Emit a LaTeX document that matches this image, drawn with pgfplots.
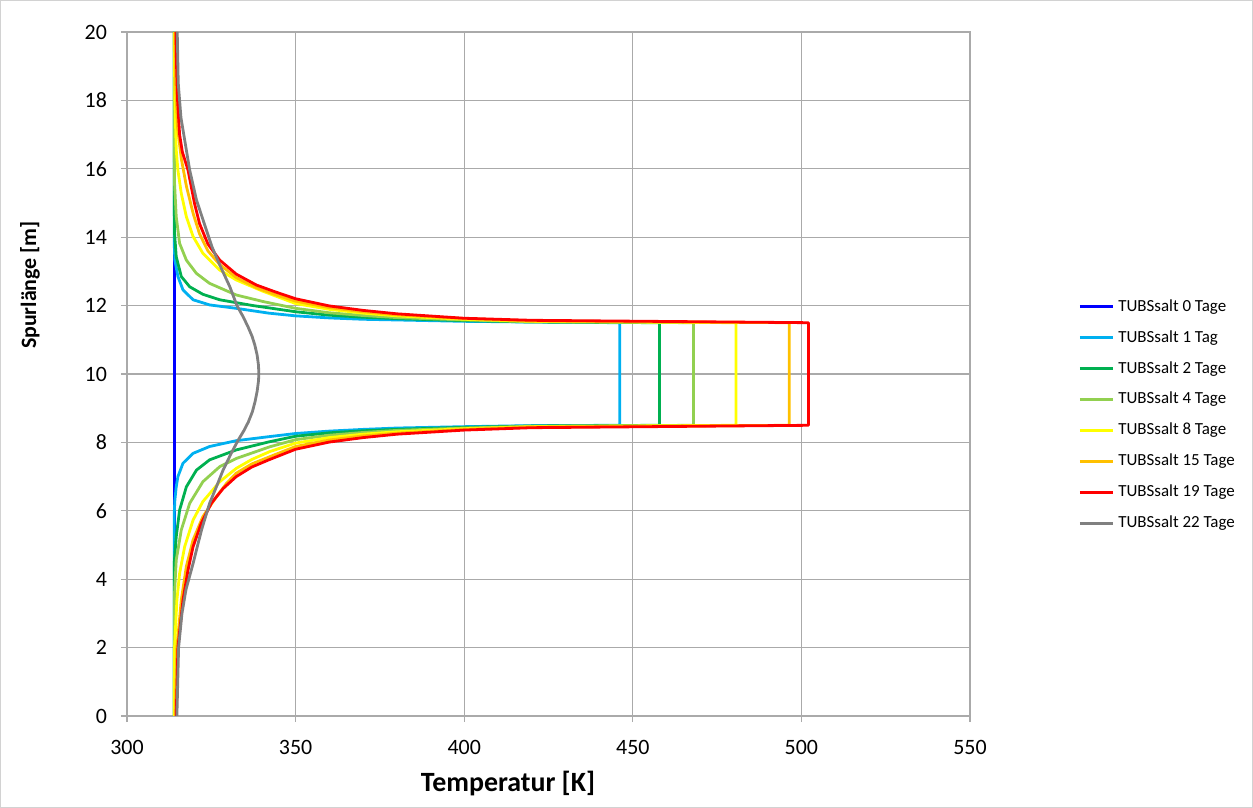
\documentclass[border=0pt]{standalone}
\usepackage{fontspec}
\setmainfont{Carlito}
\usepackage{pgfplots}
\pgfplotsset{compat=1.18}
\definecolor{gridgray}{RGB}{170,170,170}
\definecolor{c0}{RGB}{0,0,255}
\definecolor{c1}{RGB}{0,176,240}
\definecolor{c2}{RGB}{0,176,80}
\definecolor{c4}{RGB}{146,208,80}
\definecolor{c8}{RGB}{255,255,0}
\definecolor{c15}{RGB}{255,192,0}
\definecolor{c19}{RGB}{255,0,0}
\definecolor{c22}{RGB}{128,128,128}
\begin{document}
\begin{tikzpicture}
\draw[gray!35, line width=0.5bp] (0.25bp,0.25bp) rectangle (626.25bp,403.75bp);
\begin{axis}[
  at={(63.5bp,46bp)}, anchor=south west,
  scale only axis, width=421.5bp, height=342bp,
  xmin=300, xmax=550, ymin=0, ymax=20,
  xtick={300,350,...,550}, ytick={0,2,...,20},
  grid=major, major grid style={color=gridgray, line width=0.6bp},
  axis line style={gridgray, line width=0.6bp},
  tick style={gridgray, line width=0.6bp},
  tick align=outside, major tick length=3bp, tick pos=left,
  ticklabel style={font=\fontsize{11}{13}\selectfont},
  xticklabel style={yshift=-5.5bp},
  yticklabel style={xshift=-3.5bp},
  /pgf/number format/assume math mode=true,
  xlabel={Temperatur [K]}, ylabel={Spurlänge [m]},
  xlabel style={font=\fontsize{14}{16}\selectfont\bfseries, at={(axis description cs:0.452,-0.098)}, anchor=center},
  ylabel style={font=\fontsize{11}{13}\selectfont\bfseries, at={(axis description cs:-0.115,0.63)}, anchor=center},
  legend style={at={(axis description cs:1.128,0.44)}, anchor=west, draw=none, fill=none,
    font=\fontsize{8.5}{10}\selectfont, row sep=4.1bp, inner sep=0pt},
  legend cell align=left,
  legend image code/.code={\draw[#1, line width=1.5bp] (0bp,0bp) -- (16.5bp,0bp);},
  every axis plot/.append style={line width=1.4bp, line join=round, no markers},
  clip=true,
]
\addplot[c0] coordinates {(314,0) (314,20)};
\addlegendentry{TUBSsalt 0 Tage}
\addplot[c1] coordinates {(314,0) (314,5.9) (314.2,6.32) (314.6,6.7) (315.1,7.0) (316.6,7.39) (319.6,7.68) (324.5,7.88) (332.4,8.05) (342.3,8.17) (350,8.26) (360,8.33) (370,8.38) (380,8.42) (400,8.46) (420,8.49) (446.1,8.5) (446.1,11.5) (420,11.52) (400,11.54) (380,11.58) (370,11.6) (360,11.64) (350,11.7) (342,11.78) (332.4,11.92) (324.5,12.02) (319.6,12.17) (316.6,12.46) (315.1,12.85) (314.2,13.33) (314,13.82) (314,20)};
\addlegendentry{TUBSsalt 1 Tag}
\addplot[c2] coordinates {(314,0) (314,4.46) (314.6,5.24) (315.6,6.02) (317.6,6.7) (320.6,7.19) (324.5,7.49) (332.4,7.78) (342.3,8.02) (350,8.18) (360,8.28) (370,8.34) (380,8.38) (400,8.44) (420,8.48) (457.9,8.5) (457.9,11.5) (420,11.52) (400,11.56) (380,11.62) (370,11.66) (360,11.72) (350,11.82) (337.4,12.0) (327.5,12.17) (322.5,12.33) (318.6,12.55) (316.1,12.85) (314.6,13.43) (314.1,14.11) (314,15.28) (314,20)};
\addlegendentry{TUBSsalt 2 Tage}
\addplot[c4] coordinates {(314,0) (314.1,3.59) (314.6,4.56) (316.1,5.44) (318.6,6.22) (322.5,6.85) (327.5,7.29) (332.4,7.53) (342.3,7.87) (350,8.08) (360,8.21) (370,8.29) (380,8.35) (400,8.42) (420,8.47) (468,8.5) (468,11.5) (420,11.53) (400,11.58) (380,11.65) (370,11.71) (360,11.79) (350,11.92) (340.3,12.12) (332.4,12.31) (324.5,12.65) (320.6,12.94) (317.6,13.33) (315.6,13.82) (314.6,14.6) (314.1,15.57) (314,17) (314,20)};
\addlegendentry{TUBSsalt 4 Tage}
\addplot[c8] coordinates {(314,0) (314.1,2) (314.8,3.39) (315.6,4.17) (317.1,4.95) (319.6,5.73) (322.5,6.27) (327.5,6.85) (332.4,7.24) (337,7.5) (342.3,7.73) (350,7.98) (360,8.14) (370,8.24) (380,8.31) (400,8.4) (420,8.46) (480.6,8.5) (480.6,11.5) (420,11.54) (400,11.6) (380,11.7) (370,11.78) (360,11.89) (350,12.06) (340.3,12.42) (332.4,12.75) (327.5,13.04) (322.5,13.53) (319.6,14.02) (317.6,14.6) (316.1,15.28) (315.1,15.96) (314.6,16.55) (314.2,18) (314,20)};
\addlegendentry{TUBSsalt 8 Tage}
\addplot[c15] coordinates {(314.3,0) (314.8,2) (316.1,3.39) (317.6,4.37) (319.6,5.15) (322.5,5.83) (326.5,6.41) (329.5,6.8) (332.4,7.1) (337,7.37) (342.3,7.58) (350,7.88) (360,8.07) (370,8.19) (380,8.27) (400,8.38) (420,8.45) (496.4,8.5) (496.4,11.5) (420,11.55) (400,11.62) (380,11.73) (370,11.82) (360,11.94) (350,12.13) (344,12.32) (338.4,12.52) (332.4,12.82) (327.5,13.2) (324,13.6) (321.5,14.1) (319.6,14.7) (317.6,15.5) (316.1,16.3) (315,17.2) (314.4,18.5) (314.2,20)};
\addlegendentry{TUBSsalt 15 Tage}
\addplot[c19] coordinates {(314.6,0) (315.1,2) (316.6,3.39) (318.1,4.27) (319.6,4.95) (322,5.63) (325,6.22) (328.5,6.65) (332.4,7.0) (337,7.28) (342.3,7.5) (350,7.8) (360,8.01) (370,8.14) (380,8.24) (400,8.36) (420,8.43) (502.1,8.5) (502.1,11.5) (420,11.57) (400,11.63) (380,11.76) (370,11.86) (360,11.99) (350,12.2) (344,12.4) (338.4,12.6) (332.4,12.92) (327.5,13.33) (324,13.8) (321.5,14.4) (320,15.0) (318.1,15.96) (316.4,16.5) (315.6,17) (315,18) (314.7,19) (314.5,20)};
\addlegendentry{TUBSsalt 19 Tage}
\addplot[c22] coordinates {(314.8,0) (315.3,2) (316.3,3) (317.5,3.7) (319.6,4.46) (322.1,5.44) (324.5,6.22) (326.5,6.7) (328.5,7.19) (331,7.7) (333,8.07) (334.7,8.35) (336,8.6) (337.2,8.9) (338,9.2) (338.6,9.5) (339,9.8) (339.1,10) (339,10.25) (338.6,10.55) (337.9,10.85) (337.1,11.1) (335.8,11.4) (334.3,11.7) (332.6,12.0) (330.5,12.55) (327.5,13.19) (325.2,13.72) (323.2,14.31) (320.6,15.09) (318.6,15.96) (317.6,16.55) (316,17.5) (315.2,18.5) (314.9,20)};
\addlegendentry{TUBSsalt 22 Tage}
\end{axis}
\end{tikzpicture}
\end{document}
